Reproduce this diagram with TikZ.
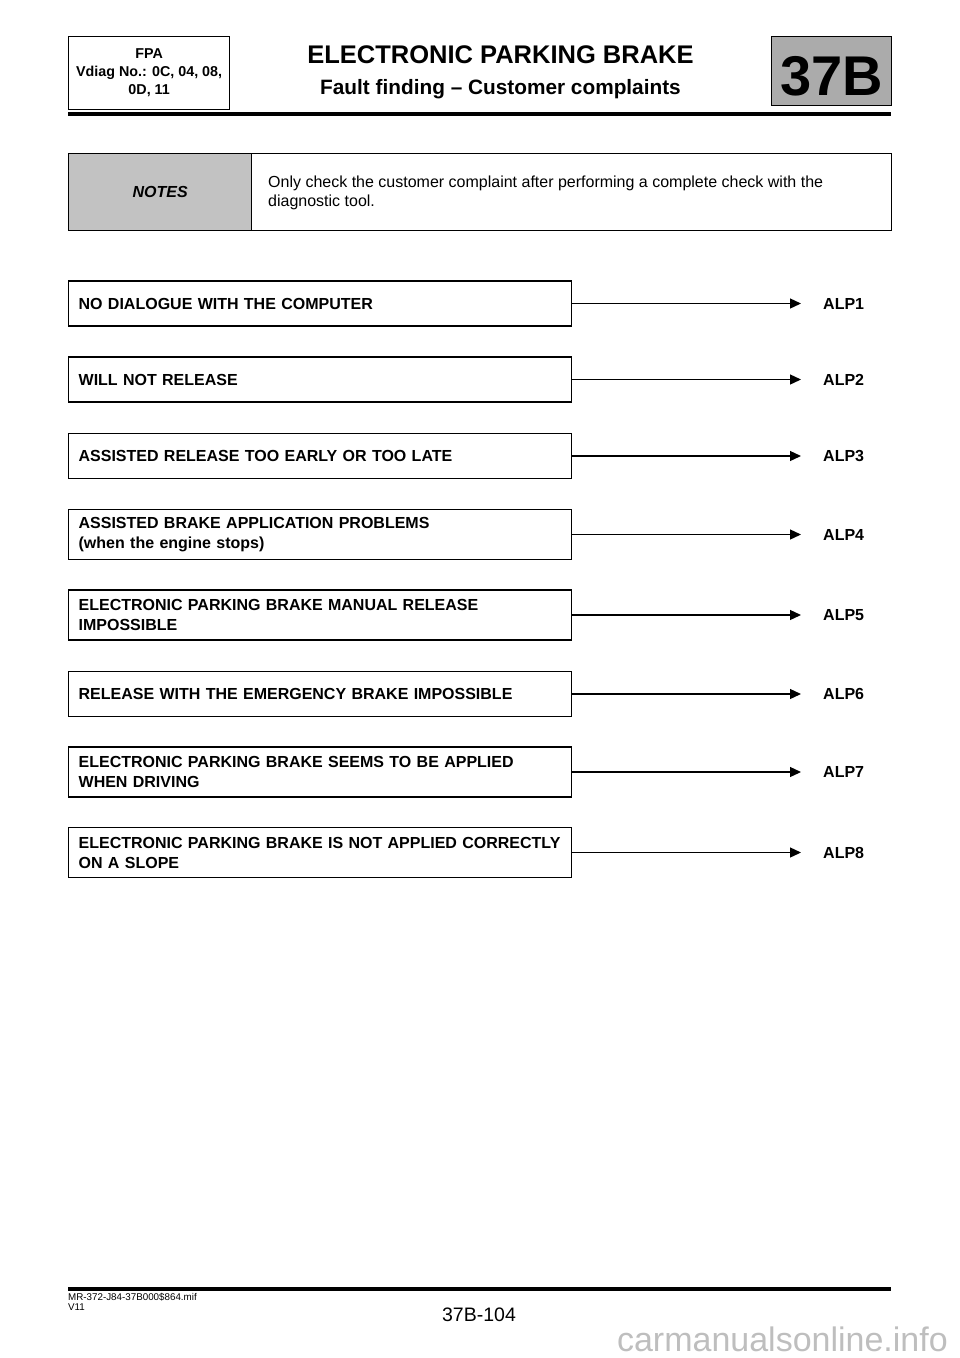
\documentclass[tikz,border=0pt]{standalone}
\usepackage{fontspec}
\setmainfont{Liberation Sans}
\usetikzlibrary{arrows.meta}
\definecolor{tabgray}{RGB}{171,171,171}
\definecolor{notegray}{RGB}{194,194,194}
\definecolor{markgray}{RGB}{190,190,190}
\begin{document}
\begin{tikzpicture}
[x=1pt, y=-1pt, font=\fontsize{16}{20}\selectfont]
\tikzstyle{frame}=[draw, line width=1.3pt]
\tikzstyle{complaint}=[frame, anchor=west, minimum width=503pt, minimum height=45pt, text width=483pt, inner xsep=10pt, inner ysep=0pt, align=left, font=\fontsize{16}{20}\selectfont\bfseries]
\tikzstyle{alp}=[anchor=west, inner sep=0pt, font=\fontsize{16}{20}\selectfont\bfseries]
\tikzstyle{flow}=[line width=1.3pt, -{Triangle[length=11pt, width=10pt]}, shorten >=22pt]
\useasboundingbox (0,0) rectangle (960,1358);

% header
\node[frame, minimum width=161pt, minimum height=73pt, anchor=north west, inner sep=0pt] (fpa) at (68,36) {};
\node[align=center, font=\fontsize{14.3}{18}\selectfont\bfseries] (fpatext) at (fpa.center) {FPA\\Vdiag No.: 0C, 04, 08,\\0D, 11};
\node[anchor=base, inner sep=0pt, font=\fontsize{25.5}{30}\selectfont\bfseries] (title) at (500.5,63.5) {ELECTRONIC PARKING BRAKE};
\node[anchor=base, inner sep=0pt, font=\fontsize{20.8}{25}\selectfont\bfseries] (subtitle) at (500.5,94.5) {Fault finding -- Customer complaints};
\node[frame, fill=tabgray, minimum width=120pt, minimum height=69pt, anchor=north west, inner sep=0pt] (tab) at (771,36) {};
\node[anchor=base, inner sep=0pt, font=\fontsize{56}{60}\selectfont\bfseries] (tabtext) at (832,95) {37B};
\draw [line width=4pt] (68,113.5) -- (891,113.5);

% notes
\node[frame, fill=notegray, minimum width=183pt, minimum height=77pt, anchor=north west, inner sep=0pt] (noteshead) at (68,153) {};
\node[frame, minimum width=640pt, minimum height=77pt, anchor=north west, inner sep=0pt] (notesbody) at (251,153) {};
\node[font=\fontsize{16}{20}\selectfont\bfseries\itshape] (noteslabel) at (noteshead.center) {NOTES};
\node[anchor=west, inner sep=0pt, align=left, font=\fontsize{16}{19}\selectfont] (notestext) at (268,193) {Only check the customer complaint after performing a complete check with the\\diagnostic tool.};

% complaints
\node[complaint] (C1) at (68,303.5) {NO DIALOGUE WITH THE COMPUTER};
\node[complaint] (C2) at (68,379.5) {WILL NOT RELEASE};
\node[complaint] (C3) at (68,456) {ASSISTED RELEASE TOO EARLY OR TOO LATE};
\node[complaint, minimum height=50pt] (C4) at (68,534.5) {ASSISTED BRAKE APPLICATION PROBLEMS\\(when the engine stops)};
\node[complaint, minimum height=50pt] (C5) at (68,615) {ELECTRONIC PARKING BRAKE MANUAL RELEASE\\IMPOSSIBLE};
\node[complaint] (C6) at (68,694) {RELEASE WITH THE EMERGENCY BRAKE IMPOSSIBLE};
\node[complaint, minimum height=50pt] (C7) at (68,772) {ELECTRONIC PARKING BRAKE SEEMS TO BE APPLIED\\WHEN DRIVING};
\node[complaint, minimum height=50pt] (C8) at (68,852.5) {ELECTRONIC PARKING BRAKE IS NOT APPLIED CORRECTLY\\ON A SLOPE};

\node[alp] (A1) at (823,303.5) {ALP1};
\node[alp] (A2) at (823,379.5) {ALP2};
\node[alp] (A3) at (823,456)   {ALP3};
\node[alp] (A4) at (823,534.5) {ALP4};
\node[alp] (A5) at (823,615)   {ALP5};
\node[alp] (A6) at (823,694)   {ALP6};
\node[alp] (A7) at (823,772)   {ALP7};
\node[alp] (A8) at (823,852.5) {ALP8};

\draw [flow] (C1.east) -- (A1.west);
\draw [flow] (C2.east) -- (A2.west);
\draw [flow] (C3.east) -- (A3.west);
\draw [flow] (C4.east) -- (A4.west);
\draw [flow] (C5.east) -- (A5.west);
\draw [flow] (C6.east) -- (A6.west);
\draw [flow] (C7.east) -- (A7.west);
\draw [flow] (C8.east) -- (A8.west);

% footer
\draw [line width=3.5pt] (68,1289) -- (891,1289);
\node[anchor=base west, inner sep=0pt, font=\fontsize{9.8}{10}\selectfont] (ref) at (68,1300) {MR-372-J84-37B000\$864.mif};
\node[anchor=base west, inner sep=0pt, font=\fontsize{9.8}{10}\selectfont] (version) at (68,1310) {V11};
\node[anchor=base, inner sep=0pt, font=\fontsize{19.5}{22}\selectfont] (page) at (479,1321.5) {37B-104};
\node[anchor=base east, inner sep=0pt, text=markgray, font=\fontsize{34}{38}\selectfont] (mark) at (948,1351) {carmanualsonline.info};
\end{tikzpicture}
\end{document}
